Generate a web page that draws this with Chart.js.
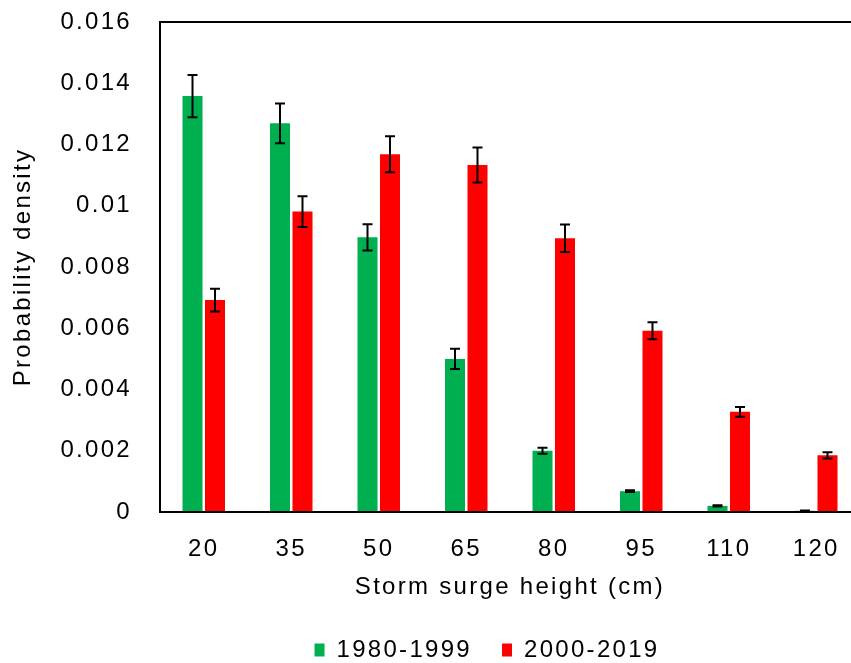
<!DOCTYPE html>
<html>
<head>
<meta charset="utf-8">
<script src="https://cdn.jsdelivr.net/npm/chart.js@4.4.1/dist/chart.umd.min.js"></script>
<style>
  html, body { margin: 0; padding: 0; background: #fff; overflow: hidden; }
  #wrap { position: relative; width: 860px; height: 663px; }
</style>
</head>
<body>
<div id="wrap"><canvas id="c"></canvas></div>
<script>
const categories = ['20', '35', '50', '65', '80', '95', '110', '120'];
const values1980 = [0.01358, 0.01269, 0.00897, 0.00500, 0.00200, 0.00068, 0.00020, 0.00004];
const errors1980 = [0.00069, 0.00065, 0.00043, 0.00033, 0.00010, 0.00003, 0.00002, 0.00001];
const values2000 = [0.00692, 0.00981, 0.01168, 0.01133, 0.00894, 0.00592, 0.00327, 0.00185];
const errors2000 = [0.00037, 0.00050, 0.00059, 0.00057, 0.00045, 0.00028, 0.00016, 0.00010];
const yTicks = [0, 0.002, 0.004, 0.006, 0.008, 0.01, 0.012, 0.014, 0.016];

const FONT = 'Liberation Sans, Arial, sans-serif';
const FONT_SIZE = 24;
const LETTER_SPACING = '2.3px';
const CHART_TOP = 22;
const CHART_BOTTOM = 512;
const LEGEND_SHIFT_X = 57;
const LEGEND_SHIFT_Y = 9;

const spacing = {
  id: 'spacing',
  beforeUpdate(chart) { chart.ctx.letterSpacing = LETTER_SPACING; },
  beforeLayout(chart) { chart.ctx.letterSpacing = LETTER_SPACING; },
  beforeDraw(chart) { chart.ctx.letterSpacing = LETTER_SPACING; }
};

const errorBars = {
  id: 'errorBars',
  afterDatasetsDraw(chart) {
    const ctx = chart.ctx;
    const ys = chart.scales.y;
    ctx.save();
    ctx.strokeStyle = '#000';
    ctx.lineWidth = 2;
    chart.data.datasets.forEach((ds, i) => {
      const meta = chart.getDatasetMeta(i);
      meta.data.forEach((el, j) => {
        const v = ds.data[j], e = ds.errors[j];
        const yTop = ys.getPixelForValue(v + e);
        const yBot = ys.getPixelForValue(v - e);
        const x = el.x;
        ctx.beginPath();
        ctx.moveTo(x, yTop); ctx.lineTo(x, yBot);
        ctx.moveTo(x - 5, yTop); ctx.lineTo(x + 5, yTop);
        ctx.moveTo(x - 5, yBot); ctx.lineTo(x + 5, yBot);
        ctx.stroke();
      });
    });
    ctx.restore();
  }
};

const legendShift = {
  id: 'legendShift',
  afterUpdate(chart) {
    const lg = chart.legend;
    if (lg) {
      lg.left += LEGEND_SHIFT_X; lg.right += LEGEND_SHIFT_X;
      lg.top += LEGEND_SHIFT_Y; lg.bottom += LEGEND_SHIFT_Y;
      if (lg.adjustHitBoxes) lg.adjustHitBoxes();
    }
  }
};

new Chart(document.getElementById('c'), {
  type: 'bar',
  data: {
    labels: categories,
    datasets: [
      { label: '1980-1999', data: values1980, errors: errors1980, backgroundColor: '#00B050', borderWidth: 0 },
      { label: '2000-2019', data: values2000, errors: errors2000, backgroundColor: '#FF0000', borderWidth: 0 }
    ]
  },
  options: {
    responsive: true,
    maintainAspectRatio: false,
    animation: false,
    devicePixelRatio: 1,
    layout: { padding: { top: 0, right: 0, bottom: 0, left: 0 } },
    datasets: { bar: { categoryPercentage: 0.514, barPercentage: 0.89 } },
    plugins: {
      legend: {
        position: 'bottom',
        labels: {
          boxWidth: 10, boxHeight: 13, padding: 30,
          color: '#000',
          font: { family: FONT, size: FONT_SIZE }
        }
      },
      tooltip: { enabled: false }
    },
    scales: {
      x: {
        grid: { display: false, drawTicks: false },
        border: { color: '#000', width: 2 },
        ticks: { color: '#000', padding: 23, font: { family: FONT, size: FONT_SIZE } },
        title: { display: true, text: 'Storm surge height (cm)', color: '#000', font: { family: FONT, size: FONT_SIZE }, padding: { top: 0, bottom: -3 } },
        afterFit(s) {
          s.height = s.chart.height - CHART_BOTTOM - s.chart.legend.height;
          s.paddingLeft = 0; s.paddingRight = 0;
        }
      },
      y: {
        min: 0, max: 0.016,
        afterBuildTicks(s) { s.ticks = yTicks.map(v => ({ value: v })); },
        grid: {
          display: true, drawTicks: false, lineWidth: 2,
          color: c => (c.tick && c.tick.value === 0.016) ? '#000' : 'rgba(0,0,0,0)'
        },
        border: { color: '#000', width: 2 },
        ticks: { color: '#000', padding: 28, font: { family: FONT, size: FONT_SIZE }, callback: v => String(v) },
        title: { display: true, text: 'Probability density', color: '#000', font: { family: FONT, size: FONT_SIZE }, padding: { top: 9, bottom: 0 } },
        afterFit(s) {
          s.width = 160;
          s.paddingTop = CHART_TOP; s.paddingBottom = 0;
        }
      }
    }
  },
  plugins: [spacing, errorBars, legendShift]
});
</script>
</body>
</html>
